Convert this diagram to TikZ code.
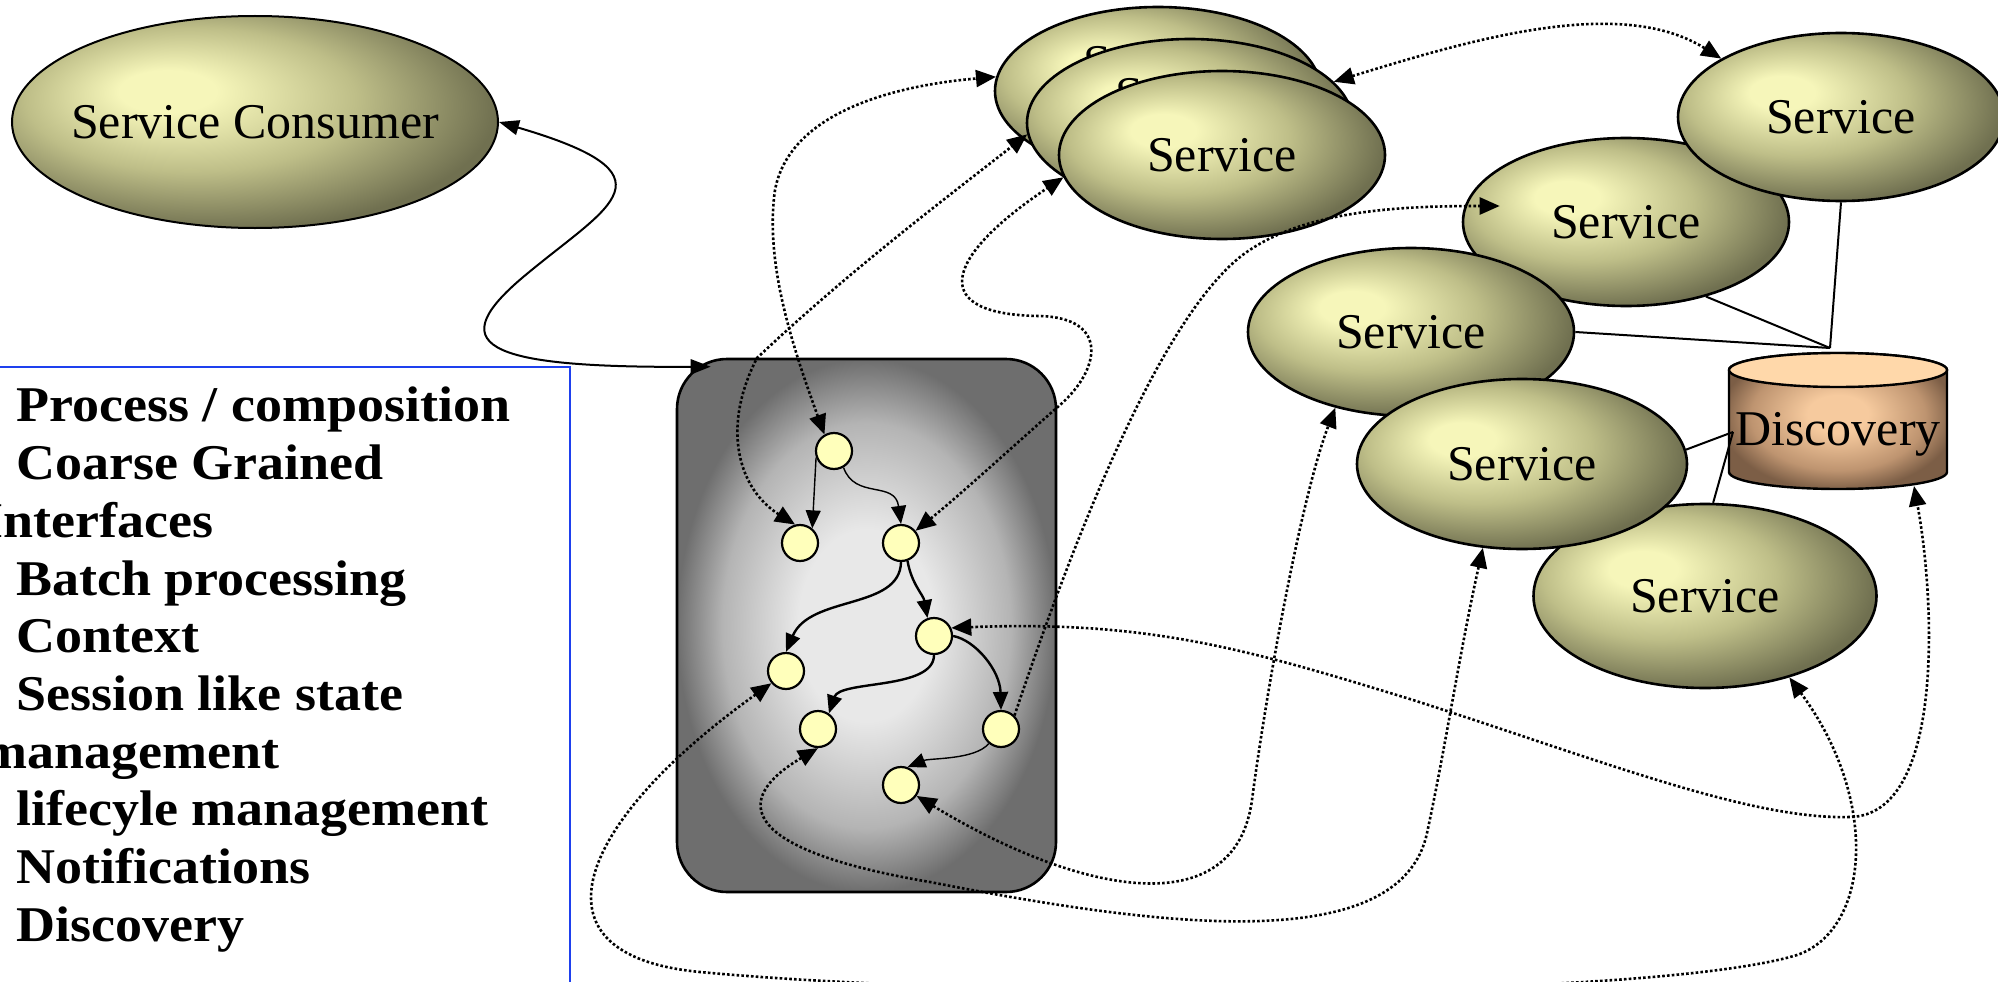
\documentclass[tikz,border=0pt]{standalone}
\usepackage{fontspec}
\setmainfont{Liberation Serif}
\newfontfamily\listfont[FakeStretch=1.08]{Liberation Serif}
\usepackage{tikz}
\usetikzlibrary{arrows.meta,calc,shapes.geometric,positioning}
\definecolor{svclight}{RGB}{246,246,186}
\definecolor{svcmid}{RGB}{190,190,136}
\definecolor{svcdark}{RGB}{112,112,80}
\definecolor{boxlight}{RGB}{232,232,232}
\definecolor{boxmid}{RGB}{180,180,180}
\definecolor{boxdark}{RGB}{110,110,110}
\definecolor{dotfill}{RGB}{255,255,187}
\definecolor{capfill}{RGB}{255,216,170}
\definecolor{disclight}{RGB}{246,202,158}
\definecolor{discmid}{RGB}{190,148,112}
\definecolor{discdark}{RGB}{124,94,70}
\definecolor{listblue}{RGB}{30,64,238}
\pgfdeclareradialshading{svcshade}{\pgfpoint{-10bp}{8bp}}{color(0bp)=(svclight); color(5bp)=(svclight); color(17bp)=(svcmid); color(29bp)=(svcdark); color(50bp)=(svcdark)}
\pgfdeclareradialshading{boxshade}{\pgfpoint{0bp}{0bp}}{color(0bp)=(boxlight); color(9bp)=(boxlight); color(19bp)=(boxmid); color(25bp)=(boxdark); color(50bp)=(boxdark)}
\pgfdeclareradialshading{discshade}{\pgfpoint{0bp}{3bp}}{color(0bp)=(disclight); color(7bp)=(disclight); color(20bp)=(discmid); color(27bp)=(discdark); color(50bp)=(discdark)}
\tikzset{
	svc/.style={ellipse,draw,line width=2.6,shade,shading=svcshade,inner sep=0pt,
		minimum width=326pt,minimum height=168pt,font=\fontsize{50}{60}\selectfont},
	svclabel/.style={font=\fontsize{50}{60}\selectfont,inner sep=0pt},
	procstep/.style={circle,draw,line width=2.2,fill=dotfill,minimum size=36pt,inner sep=0pt},
	headed/.style={-{Triangle[length=18pt,width=15pt]}},
	call/.style={headed,line width=1.4},
	callthick/.style={headed,line width=2.4},
	msgdots/.style={line width=2.6,dash pattern=on 2.6pt off 2.2pt},
	msg/.style={msgdots,{Triangle[length=20pt,width=17pt]}-{Triangle[length=20pt,width=17pt]}},
	msgone/.style={msgdots,-{Triangle[length=20pt,width=17pt]}},
	wire/.style={line width=2}
}
\begin{document}
\begin{tikzpicture}[x=1pt,y=1pt,
		listline/.style={anchor=base west,inner sep=0pt,font=\listfont\bfseries\fontsize{50}{58}\selectfont}]
\useasboundingbox (0,0) rectangle (1998,-982);
\clip (0,0) rectangle (1998,-982);
\node[svc,minimum width=486pt,minimum height=212pt,line width=2] (cons) at (255,-122) {\makebox[0pt]{Service Consumer}};
\draw[listblue,line width=2.5] (-10,-1000) rectangle (570,-367);
\node[listline] (f1) at (16,-421) {Process / composition};
\node[listline] (f2) at (16,-479) {Coarse Grained};
\node[listline] (f3) at (-18,-537) {Interfaces};
\node[listline] (f4) at (16,-595) {Batch processing};
\node[listline] (f5) at (16,-652) {Context};
\node[listline] (f6) at (16,-710) {Session like state};
\node[listline] (f7) at (-18,-768) {management};
\node[listline] (f8) at (16,-825) {lifecyle management};
\node[listline] (f9) at (16,-883) {Notifications};
\node[listline] (f10) at (16,-941) {Discovery};
\node[draw,line width=2.6,rounded corners=50pt,shade,shading=boxshade,
	minimum width=379pt,minimum height=533pt] (proc) at (866.5,-625.5) {};
\node[procstep] (c1) at (834,-451) {};
\node[procstep] (c2) at (800,-543) {};
\node[procstep] (c3) at (901,-543) {};
\node[procstep] (c4) at (934,-636) {};
\node[procstep] (c5) at (786,-671) {};
\node[procstep] (c6) at (818,-729) {};
\node[procstep] (c7) at (1001,-729) {};
\node[procstep] (c8) at (901,-785) {};
\draw[call] (c1.200) -- (c2.50);
\draw[call] (c1.-60) .. controls (855,-500) and (895,-480) .. (c3.north);
\draw[callthick] (c3.south) .. controls (900,-610) and (810,-595) .. (c5.north);
\draw[callthick] (c3.-70) to[out=-80,in=100] (c4.110);
\draw[callthick] (c4.south) .. controls (934,-690) and (840,-680) .. (c6.55);
\draw[callthick] (c4.east) .. controls (975,-640) and (1000,-670) .. (c7.north);
\draw[call] (c7.230) .. controls (975,-760) and (930,-758) .. (c8.70);
\node[svc] (svcR2) at (1626,-222) {Service};
\node[svc] (svcR1) at (1841,-117) {Service};
\node[svc] (svcR3) at (1411,-332) {Service};
\node[svc,minimum width=343pt,minimum height=184pt] (svcR5) at (1705,-596) {Service};
\node[svc,minimum width=330pt,minimum height=170pt] (svcR4) at (1522,-464) {Service};
\node[svc,label={[svclabel,yshift=28pt]center:Service}] (stackA) at (1158,-91) {};
\node[svc,label={[svclabel,yshift=28pt]center:Service}] (stackB) at (1190,-123) {};
\node[svc] (stackC) at (1222,-155) {Service};
\coordinate (discC) at (1838,-421);
\shade[shading=discshade,draw,line width=2.4] ([shift={(-109,51)}]discC) -- ([shift={(-109,-51)}]discC)
	arc[start angle=180,end angle=360,x radius=109,y radius=17] -- ([shift={(109,51)}]discC)
	arc[start angle=0,end angle=180,x radius=109,y radius=17] -- cycle;
\draw[fill=capfill,line width=2.4] ([yshift=51]discC) ellipse[x radius=109,y radius=17];
\node[svclabel,anchor=base] (disc) at ([yshift=-24]discC) {Discovery};
\coordinate (discJ) at ([shift={(-8,73)}]discC);
\coordinate (discK) at ([shift={(-105,-11)}]discC);
\coordinate (discB) at ([shift={(76,-65)}]discC);
\draw[wire] (svcR1.south) -- (discJ);
\draw[wire] (svcR2.-43) -- (discJ);
\draw[wire] (svcR3.east) -- (discJ);
\draw[wire] (svcR4.5) -- (discK);
\draw[wire] (svcR5.85) -- (discK);
\draw[line width=2,{Triangle[length=20pt,width=15pt]}-{Triangle[length=20pt,width=15pt]}] (cons.east)
	.. controls (680,-175) and (610,-205) .. (528,-273)
	.. controls (440,-345) and (480,-368) .. ([shift={(35,-9)}]proc.north west);
\draw[msg] (c1.120) .. controls (790,-340) and (765,-260) .. (775,-190)
	.. controls (790,-110) and (900,-85) .. (stackA.175);
\draw[msg] (c2.105) .. controls (740,-490) and (720,-430) .. (757,-358)
	.. controls (850,-270) and (950,-195) .. (stackB.184);
\draw[msg] (c3.40) .. controls (960,-495) and (1020,-440) .. (1060,-405)
	.. controls (1100,-370) and (1110,-318) .. (1040,-316)
	.. controls (930,-315) and (940,-260) .. (stackC.188);
\draw[msgone] (c7.45) .. controls (1060,-580) and (1150,-330) .. (1240,-257)
	.. controls (1300,-210) and (1400,-206) .. ([shift={(38,16)}]svcR2.west);
\draw[msg] (c4.25) .. controls (1150,-620) and (1250,-650) .. (1413,-700)
	.. controls (1600,-760) and (1750,-820) .. (1850,-817)
	.. controls (1945,-815) and (1935,-600) .. (discB);
\draw[msg] (c5.220) .. controls (580,-820) and (520,-955) .. (700,-972)
	.. controls (1000,-1000) and (1650,-1000) .. (1797,-955)
	.. controls (1870,-930) and (1880,-800) .. (svcR5.-44);
\draw[msg] (c6.south) .. controls (730,-800) and (740,-850) .. (930,-882)
	.. controls (1150,-925) and (1400,-960) .. (1427,-833)
	.. controls (1445,-750) and (1460,-650) .. (svcR4.-115);
\draw[msg] (c8.-35) .. controls (1080,-895) and (1235,-925) .. (1252,-800)
	.. controls (1265,-700) and (1300,-500) .. (svcR3.-135);
\draw[msg] (stackB.16) .. controls (1470,-40) and (1620,5) .. (svcR1.154);
\end{tikzpicture}
\end{document}
